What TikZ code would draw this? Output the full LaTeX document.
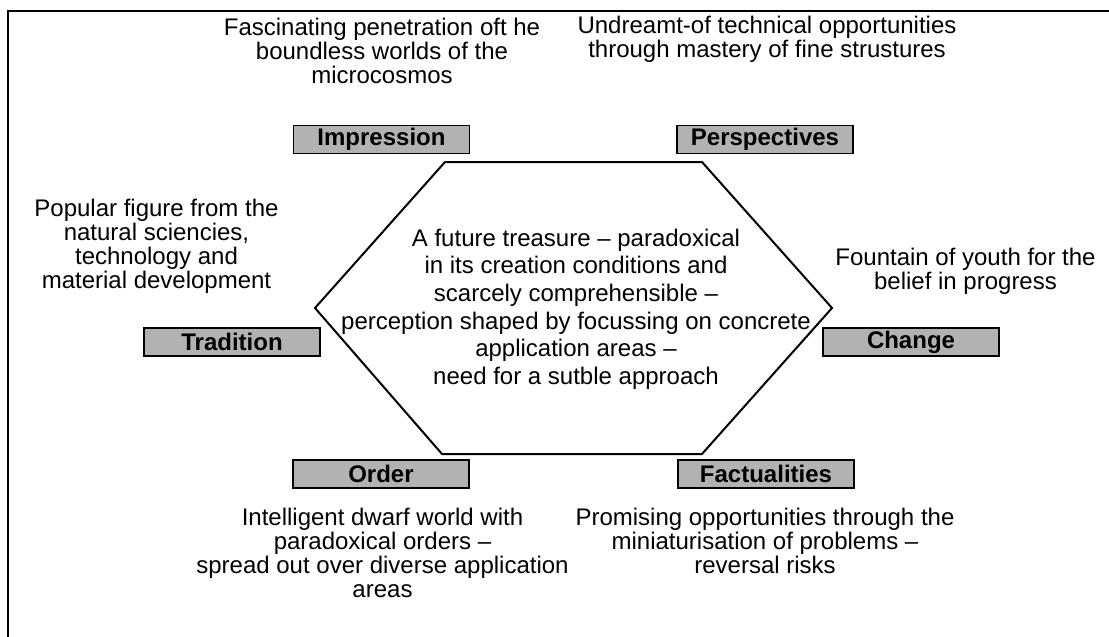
\documentclass[tikz,border=0pt]{standalone}
\usepackage{fontspec}
\setmainfont{Liberation Sans}
\begin{document}
\begin{tikzpicture}[x=1pt,y=-1pt,
  labelbox/.style={draw=black, line width=1.4pt, fill=black!30,
    minimum width=176pt, minimum height=28pt, inner sep=0pt,
    font=\fontsize{24}{24}\selectfont\bfseries},
  note/.style={align=center, inner sep=0pt,
    font=\fontsize{24}{24}\selectfont},
  core/.style={align=center, inner sep=0pt,
    font=\fontsize{24}{27.6}\selectfont},
]
\useasboundingbox (0,0) rectangle (1109,637);

% outer frame
\draw[line width=2pt] (8,637) -- (8,11) -- (1109,11);

% central hexagon
\draw[line width=2pt, line join=miter]
  (445,162) -- (702,162) -- (832,308) -- (702,454) -- (442,454) -- (315,308) -- cycle;
\node[core] (centre) at (576,309) {A future treasure – paradoxical\\
  in its creation conditions and\\
  scarcely comprehensible –\\
  perception shaped by focussing on concrete\\
  application areas –\\
  need for a sutble approach};

% aspect labels
\node[labelbox] (impression)   at (381.5,139.5) {Impression};
\node[labelbox] (perspectives) at (765,139.5)   {Perspectives};
\node[labelbox] (tradition)    at (232,342)     {Tradition};
\node[labelbox] (change)       at (911,342)     {Change};
\node[labelbox] (order)        at (381,474)     {Order};
\node[labelbox] (factualities) at (766,474)     {Factualities};

% descriptions
\node[note] (impressiontext) at (382,51) {Fascinating penetration oft he\\
  boundless worlds of the\\ microcosmos};
\node[note] (perspectivestext) at (767,39) {Undreamt-of technical opportunities\\
  through mastery of fine strustures};
\node[note] (traditiontext) at (156.5,246) {Popular figure from the\\
  natural sciencies,\\ technology and\\ material development};
\node[note] (changetext) at (965.5,271.5) {Fountain of youth for the\\ belief in progress};
\node[note] (ordertext) at (382.5,552.5) {Intelligent dwarf world with\\
  paradoxical orders –\\ spread out over diverse application\\ areas};
\node[note] (factualitiestext) at (765,540.5) {Promising opportunities through the\\
  miniaturisation of problems –\\ reversal risks};
\end{tikzpicture}
\end{document}
